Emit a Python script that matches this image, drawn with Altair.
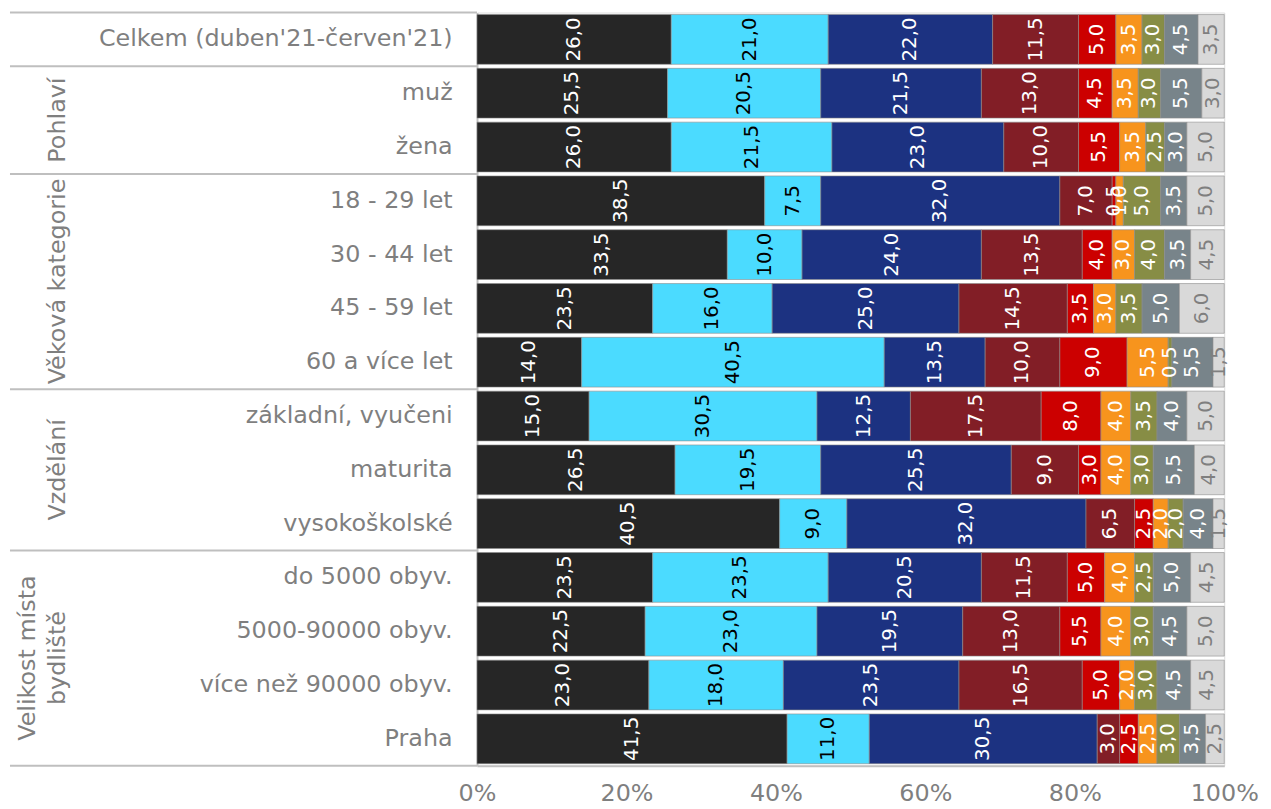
import altair as alt
import pandas as pd

rows = ["Celkem (duben'21-červen'21)", "muž", "žena", "18 - 29 let", "30 - 44 let",
        "45 - 59 let", "60 a více let", "základní, vyučeni", "maturita", "vysokoškolské",
        "do 5000 obyv.", "5000-90000 obyv.", "více než 90000 obyv.", "Praha"]

parties = ["Piráti a STAN", "ANO 2011", "SPOLU", "SPD", "KSČM", "ČSSD", "Přísaha",
           "Trikolóra", "Jiná strana"]

pirati = [26.0, 25.5, 26.0, 38.5, 33.5, 23.5, 14.0, 15.0, 26.5, 40.5, 23.5, 22.5, 23.0, 41.5]
ano = [21.0, 20.5, 21.5, 7.5, 10.0, 16.0, 40.5, 30.5, 19.5, 9.0, 23.5, 23.0, 18.0, 11.0]
spolu = [22.0, 21.5, 23.0, 32.0, 24.0, 25.0, 13.5, 12.5, 25.5, 32.0, 20.5, 19.5, 23.5, 30.5]
spd = [11.5, 13.0, 10.0, 7.0, 13.5, 14.5, 10.0, 17.5, 9.0, 6.5, 11.5, 13.0, 16.5, 3.0]
kscm = [5.0, 4.5, 5.5, 0.5, 4.0, 3.5, 9.0, 8.0, 3.0, 2.5, 5.0, 5.5, 5.0, 2.5]
cssd = [3.5, 3.5, 3.5, 1.0, 3.0, 3.0, 5.5, 4.0, 4.0, 2.0, 4.0, 4.0, 2.0, 2.5]
prisaha = [3.0, 3.0, 2.5, 5.0, 4.0, 3.5, 0.5, 3.5, 3.0, 2.0, 2.5, 3.0, 3.0, 3.0]
trikolora = [4.5, 5.5, 3.0, 3.5, 3.5, 5.0, 5.5, 4.0, 5.5, 4.0, 5.0, 4.5, 4.5, 3.5]
jina = [3.5, 3.0, 5.0, 5.0, 4.5, 6.0, 1.5, 5.0, 4.0, 1.5, 4.5, 5.0, 4.5, 2.5]

series = [pirati, ano, spolu, spd, kscm, cssd, prisaha, trikolora, jina]

bar_colors = ["#262626", "#4BDBFF", "#1C3281", "#821E26", "#CC0000", "#F7941D",
              "#878D45", "#78848A", "#D9D9D9"]
text_colors = ["#FFFFFF", "#000000", "#FFFFFF", "#FFFFFF", "#FFFFFF", "#FFFFFF",
               "#FFFFFF", "#FFFFFF", "#7F7F7F"]

group_names = ["Pohlaví", "Věková kategorie", "Vzdělání", "Velikost místa\nbydliště"]
group_sizes = [2, 4, 3, 4]

# long table
recs = []
for pi, (p, vals) in enumerate(zip(parties, series)):
    for r, v in zip(rows, vals):
        recs.append({"row": r, "party": p, "value": v, "order": pi})
df = pd.DataFrame(recs)

# group geometry (in row units)
starts = []
s = 1
for n in group_sizes:
    starts.append(s)
    s += n

GRAY = "#7F7F7F"
LINE = "#BFBFBF"
FONT = "DejaVu Sans"

yscale = alt.Scale(domain=rows, paddingInner=0.075, paddingOuter=0.0375)
yaxis = alt.Axis(title=None, labelFontSize=24, labelColor=GRAY, labelFont=FONT,
                 labelPadding=25, labelLimit=600, ticks=False, domainColor=LINE,
                 domainWidth=2, grid=False)
xscale = alt.Scale(domain=[0, 100], nice=False)
xaxis = alt.Axis(title=None, values=[0, 20, 40, 60, 80, 100], labelExpr="datum.value + '%'",
                 grid=False, ticks=False, domainColor=LINE, domainWidth=2, labelFlush=False,
                 labelFontSize=24, labelColor=GRAY, labelFont=FONT, labelPadding=16)

bars = alt.Chart(df).mark_bar(stroke="#8C8C8C", strokeWidth=0.6).encode(
    y=alt.Y("row:N", scale=yscale, axis=yaxis),
    x=alt.X("value:Q", stack="zero", scale=xscale, axis=xaxis),
    color=alt.Color("party:N", scale=alt.Scale(domain=parties, range=bar_colors), legend=None),
    order=alt.Order("order:Q", sort="ascending"),
)

labels = alt.Chart(df).transform_stack(
    stack="value", groupby=["row"], as_=["x0", "x1"],
    sort=[alt.SortField("order", "ascending")],
).transform_calculate(
    mid="(datum.x0 + datum.x1) / 2",
    lab="replace(format(datum.value, '.1f'), '.', ',')",
).mark_text(angle=270, fontSize=20, font=FONT, align="center", baseline="middle").encode(
    y=alt.Y("row:N", scale=yscale, axis=yaxis),
    x=alt.X("mid:Q", scale=xscale, axis=xaxis),
    text="lab:N",
    color=alt.Color("party:N", scale=alt.Scale(domain=parties, range=text_colors), legend=None),
)

# separator lines
sep_top = pd.DataFrame({"row": [rows[0]] + [rows[st] for st in starts]})
sep_bot = pd.DataFrame({"row": [rows[-1]]})
rule_top = alt.Chart(sep_top).mark_rule(color=LINE, strokeWidth=2, yOffset=-2).encode(
    y=alt.Y("row:N", bandPosition=0, scale=yscale, axis=yaxis),
    x=alt.value(-470), x2=alt.value(0),
)
rule_bot = alt.Chart(sep_bot).mark_rule(color=LINE, strokeWidth=2, yOffset=2).encode(
    y=alt.Y("row:N", bandPosition=1, scale=yscale, axis=yaxis),
    x=alt.value(-470), x2=alt.value(0),
)

# group labels
even_single, odd_single, multi = [], [], []
for name, st, n in zip(group_names, starts, group_sizes):
    if n % 2 == 0:
        rec = {"anchor": rows[st + n // 2 - 1], "name": name}
        (multi if "\n" in name else even_single).append(rec)
    else:
        odd_single.append({"anchor": rows[st + n // 2], "name": name})


def group_layer(recs_, band, xpix, yoff):
    return alt.Chart(pd.DataFrame(recs_)).mark_text(
        angle=270, fontSize=24, font=FONT, color=GRAY, align="center", baseline="middle",
        lineBreak="\n", lineHeight=30, yOffset=yoff,
    ).encode(
        y=alt.Y("anchor:N", bandPosition=band, scale=yscale, axis=yaxis),
        x=alt.value(xpix),
        text="name:N",
    )


g1 = group_layer(even_single, 1, -422, 2)
g2 = group_layer(odd_single, 0.5, -422, 0)
g3 = group_layer(multi, 1, -452, 2)

chart = alt.layer(rule_top, rule_bot, bars, labels, g1, g2, g3).resolve_scale(
    color="independent"
).properties(
    width=752, height=758,
    autosize=alt.AutoSizeParams(type="none"),
    padding={"left": 472, "top": 2, "right": 39, "bottom": 41},
).configure_view(stroke=None).configure(font=FONT)

chart.save("out.html", embed_options={"renderer": "svg", "actions": False})
